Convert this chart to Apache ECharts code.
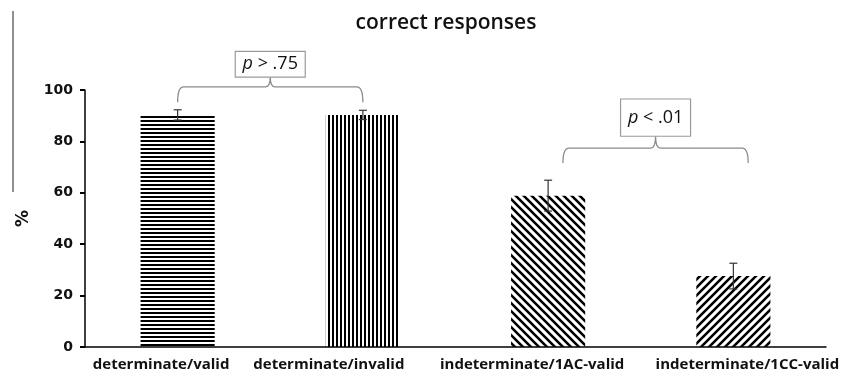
<!DOCTYPE html>
<html><head><meta charset="utf-8">
<script src="https://cdn.jsdelivr.net/npm/echarts@6/dist/echarts.min.js"></script>
<style>html,body{margin:0;padding:0;background:#fff}#c{width:842px;height:373px}</style>
</head><body><div id="c"></div>
<script>
// ---- data ----
const categories = ['determinate/valid', 'determinate/invalid', 'indeterminate/1AC-valid', 'indeterminate/1CC-valid'];
const values = [90.3, 90.3, 58.9, 27.6];
const errors = [2.0, 1.8, 6.0, 5.0];
const yTicks = [0, 20, 40, 60, 80, 100];
// comparison brackets (category positions, y values)
const compStart = [0, 2.08];
const compEnd = [1, 3.08];
const compEndY = [95.2, 71.6];
const compLineY = [101.2, 77.4];
const compBoxBottom = [105, 82];
const compBoxTop = [115, 96.5];
const compLabels = ['p > .75', 'p < .01'];

// ---- patterns ----
function makePattern(kind) {
  const c = document.createElement('canvas');
  const ctx = c.getContext('2d');
  ctx.fillStyle = '#111';
  ctx.strokeStyle = '#111';
  if (kind === 'h') { c.width = 8; c.height = 4; ctx.fillRect(0, 0, 8, 2); }
  else if (kind === 'v') { c.width = 4; c.height = 8; ctx.fillRect(0, 0, 2, 8); }
  else {
    c.width = 8; c.height = 8; ctx.lineWidth = 2.6; ctx.lineCap = 'square';
    ctx.beginPath();
    if (kind === 'b') { // "\"
      ctx.moveTo(0, 0); ctx.lineTo(8, 8);
      ctx.moveTo(-2, 6); ctx.lineTo(2, 10);
      ctx.moveTo(6, -2); ctx.lineTo(10, 2);
    } else { // "/"
      ctx.moveTo(0, 8); ctx.lineTo(8, 0);
      ctx.moveTo(-2, 2); ctx.lineTo(2, -2);
      ctx.moveTo(6, 10); ctx.lineTo(10, 6);
    }
    ctx.stroke();
  }
  return c;
}
const patternKinds = ['h', 'v', 'b', 'f'];
const pats = patternKinds.map(makePattern);

const FONT = "'Open Sans', sans-serif";
// per-label horizontal shift (labels in the original are not centred under the bars)
const labelPad = [[0, 33, 0, 0], [0, 68, 0, 0], [0, 32, 0, 0], [0, 0, 0, 28]];
const labelRich = {};
labelPad.forEach((p, i) => {
  labelRich['l' + i] = { padding: p, fontFamily: FONT, fontWeight: 700, fontSize: 15, color: '#111' };
});

const chart = echarts.init(document.getElementById('c'), null, { renderer: 'canvas' });

chart.setOption({
  animation: false,
  backgroundColor: '#fff',
  title: {
    text: 'correct responses', left: 441, textAlign: 'center', top: 8,
    textStyle: { fontFamily: FONT, fontWeight: 600, fontSize: 21, color: '#111' }
  },
  grid: { left: 85, right: 15, top: 90, bottom: 26 },
  xAxis: {
    type: 'category', data: categories, boundaryGap: true,
    axisLine: { lineStyle: { color: '#000', width: 1.5 } },
    axisTick: { show: false },
    axisLabel: {
      margin: 10, interval: 0, hideOverlap: false,
      formatter: function (v, i) { return '{l' + i + '|' + v + '}'; },
      rich: labelRich
    }
  },
  yAxis: {
    type: 'value', min: yTicks[0], max: yTicks[yTicks.length - 1], interval: 20,
    name: '%', nameLocation: 'middle', nameRotate: 90, nameGap: 53,
    nameTextStyle: { fontFamily: 'DejaVu Sans', fontWeight: 700, fontSize: 17, color: '#111' },
    axisLine: { show: true, lineStyle: { color: '#000', width: 1.5 } },
    axisTick: { show: true, length: 5, lineStyle: { color: '#000', width: 2 } },
    axisLabel: { margin: 12, fontFamily: 'DejaVu Sans', fontWeight: 700, fontSize: 14, color: '#111' },
    splitLine: { show: false }
  },
  graphic: [{
    type: 'line', shape: { x1: 13, y1: 11, x2: 13, y2: 192 },
    style: { stroke: '#222', lineWidth: 1 }
  }],
  series: [
    {
      type: 'bar', barWidth: '40%', z: 2,
      data: values.map((v, i) => ({ value: v, itemStyle: { color: { image: pats[i], repeat: 'repeat' } } }))
    },
    {
      type: 'custom', z: 3,
      data: values.map((v, i) => [i, v - errors[i], v + errors[i]]),
      renderItem: function (params, api) {
        const lo = api.coord([api.value(0), api.value(1)]);
        const hi = api.coord([api.value(0), api.value(2)]);
        const w = 4;
        const st = { stroke: '#333', lineWidth: 1.2 };
        return {
          type: 'group', children: [
            { type: 'line', shape: { x1: hi[0], y1: hi[1], x2: lo[0], y2: lo[1] }, style: st },
            { type: 'line', shape: { x1: hi[0] - w, y1: hi[1], x2: hi[0] + w, y2: hi[1] }, style: st },
            { type: 'line', shape: { x1: lo[0] - w, y1: lo[1], x2: lo[0] + w, y2: lo[1] }, style: st }
          ]
        };
      }
    },
    {
      type: 'custom', z: 4, clip: false,
      data: compStart.map((s, i) => [s, compEnd[i], compEndY[i], compLineY[i], compBoxBottom[i], compBoxTop[i]]),
      renderItem: function (params, api) {
        const band = api.size([1, 0])[0];
        function px(v) { const i = Math.floor(v); return api.coord([i, 0])[0] + (v - i) * band; }
        function py(v) { return api.coord([0, v])[1]; }
        const x1 = px(api.value(0)), x2 = px(api.value(1)), xm = (x1 + x2) / 2;
        const yE = py(api.value(2)), yL = py(api.value(3)), yB = py(api.value(4)), yT = py(api.value(5));
        const r = 6, s = 5;
        const path = `M${x1} ${yE} Q${x1} ${yL} ${x1 + r} ${yL} L${xm - s} ${yL} Q${xm} ${yL} ${xm} ${yB} ` +
          `M${xm} ${yB} Q${xm} ${yL} ${xm + s} ${yL} L${x2 - r} ${yL} Q${x2} ${yL} ${x2} ${yE}`;
        const lbl = compLabels[params.dataIndex];
        const bw = 70;
        return {
          type: 'group', children: [
            { type: 'path', shape: { pathData: path }, style: { stroke: '#8a8a8a', lineWidth: 1.3, fill: null } },
            { type: 'rect', shape: { x: xm - bw / 2, y: yT, width: bw, height: yB - yT },
              style: { stroke: '#9a9a9a', lineWidth: 1.2, fill: '#fff' } },
            { type: 'text', x: xm, y: (yT + yB) / 2,
              style: {
                text: '{i|' + lbl.charAt(0) + '}{n|' + lbl.slice(1) + '}',
                align: 'center', verticalAlign: 'middle',
                rich: {
                  i: { fontStyle: 'italic', fontSize: 18, fontFamily: FONT, fill: '#111' },
                  n: { fontSize: 18, fontFamily: FONT, fill: '#111' }
                }
              } }
          ]
        };
      }
    }
  ]
});
</script>
</body></html>
